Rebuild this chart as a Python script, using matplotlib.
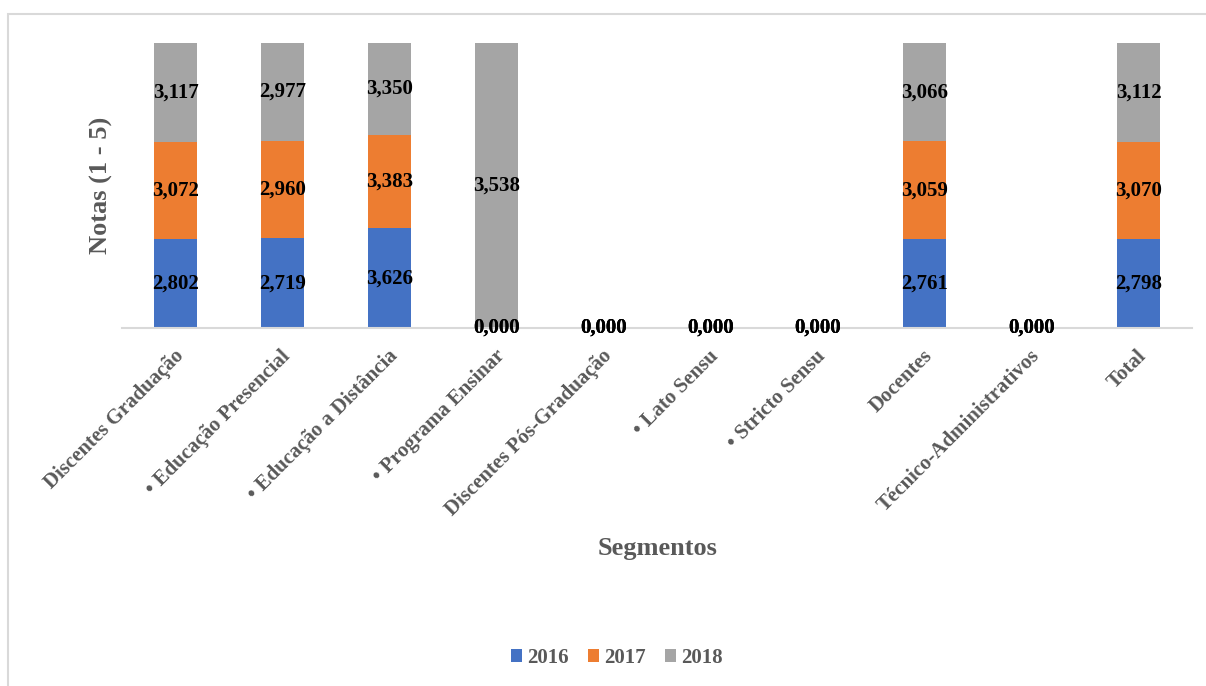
import numpy as np
import matplotlib
matplotlib.use("Agg")
import matplotlib.pyplot as plt
from matplotlib.patches import Rectangle
import matplotlib.transforms as mtransforms

plt.rcParams['font.family'] = ['Liberation Serif', 'DejaVu Serif']

# data
segmentos = ["Discentes Graduação", "• Educação Presencial", "• Educação a Distância",
             "• Programa Ensinar", "Discentes Pós-Graduação", "• Lato Sensu",
             "• Stricto Sensu", "Docentes", "Técnico-Administrativos", "Total"]
anos = ["2016", "2017", "2018"]
notas_2016 = [2.802, 2.719, 3.626, 0.0, 0.0, 0.0, 0.0, 2.761, 0.0, 2.798]
notas_2017 = [3.072, 2.960, 3.383, 0.0, 0.0, 0.0, 0.0, 3.059, 0.0, 3.070]
notas_2018 = [3.117, 2.977, 3.350, 3.538, 0.0, 0.0, 0.0, 3.066, 0.0, 3.112]
cores = ["#4472C4", "#ED7D31", "#A5A5A5"]

series = np.array([notas_2016, notas_2017, notas_2018])
totais = series.sum(axis=0)
frac = np.divide(series, totais, out=np.zeros_like(series), where=totais > 0)

fig = plt.figure(figsize=(12.06, 6.86), dpi=100)
# light frame around chart area (clipped at right/bottom like the source)
fig.patches.append(Rectangle((8 / 1206, -0.1), 1.2, 1.1 - 14 / 686, transform=fig.transFigure,
                             fill=False, edgecolor="#D9D9D9", linewidth=1.5))
ax = fig.add_axes([122 / 1206, 1 - 328 / 686, 1070 / 1206, 285 / 686])

x = np.arange(len(segmentos))
base = np.zeros(len(segmentos))
for i in range(len(anos)):
    ax.bar(x, frac[i], 0.4, bottom=base, color=cores[i], label=anos[i], zorder=2)
    for j in range(len(segmentos)):
        ax.text(x[j], base[j] + frac[i][j] / 2, f"{series[i][j]:.3f}".replace(".", ","),
                ha="center", va="center", fontsize=15, fontweight="bold", color="black", zorder=4)
    base = base + frac[i]

ax.set_xlim(-0.5, len(segmentos) - 0.5)
ax.set_ylim(0, 1)
ax.set_yticks([])
for s in ["top", "right", "left"]:
    ax.spines[s].set_visible(False)
ax.spines["bottom"].set_color("#D9D9D9")
ax.spines["bottom"].set_linewidth(1.5)
ax.spines["bottom"].set_zorder(3)

ax.set_xticks(x)
ax.set_xticklabels(segmentos, rotation=45, ha="right", va="top", rotation_mode="anchor",
                   fontsize=15, fontweight="bold", color="#595959")
ax.tick_params(axis="x", length=0, pad=13)
offset = mtransforms.ScaledTranslation(-2 / 100, 0, fig.dpi_scale_trans)
for lab in ax.get_xticklabels():
    lab.set_transform(lab.get_transform() + offset)

ax.set_ylabel("Notas (1 - 5)", fontsize=19, fontweight="bold", color="#595959")
ax.yaxis.set_label_coords(-0.008, 0.5)
fig.text(658 / 1206, 1 - 548 / 686, "Segmentos", ha="center", va="center",
         fontsize=19, fontweight="bold", color="#595959")

leg = fig.legend(loc="center", bbox_to_anchor=(617 / 1206, 1 - 658 / 686), ncol=3, frameon=False,
                 prop={"size": 15, "weight": "bold"}, handlelength=0.55, handleheight=0.55,
                 handletextpad=0.25, columnspacing=0.9)
for t in leg.get_texts():
    t.set_color("#595959")

fig.savefig("out.png", dpi=100)
